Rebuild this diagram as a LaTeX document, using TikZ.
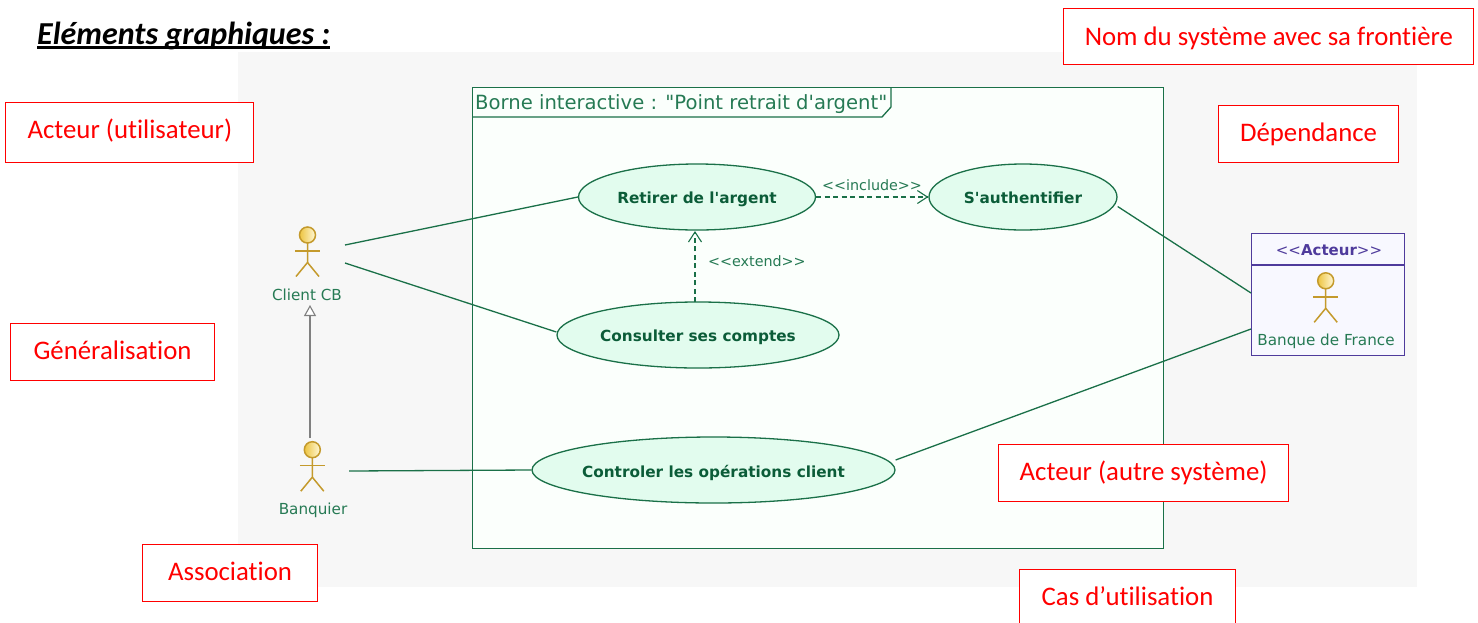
\documentclass[tikz,border=0pt]{standalone}
\usepackage{fontspec}
\setmainfont[Ligatures=NoCommon]{Carlito}
\newfontfamily\umlfont{DejaVu Sans}
\usetikzlibrary{arrows.meta,calc,shapes.geometric}
\definecolor{umlgreen}{HTML}{1A7048}
\definecolor{umltext}{HTML}{267A54}
\definecolor{umldark}{HTML}{0B5C38}
\definecolor{ucfill}{HTML}{E2FCEE}
\definecolor{framefill}{HTML}{FBFFFC}
\definecolor{gold}{HTML}{C49A2C}
\definecolor{headl}{HTML}{EDC440}
\definecolor{headr}{HTML}{FFF8D8}
\definecolor{purp}{HTML}{4F3B9C}
\definecolor{bqfill}{HTML}{F8F8FF}
\definecolor{bgray}{HTML}{F7F7F7}
\definecolor{genc}{HTML}{808080}
\newcommand{\dropped}[2]{\makebox[0pt]{\raisebox{#1}[0pt][0pt]{#2}}}
\tikzset{
  redbox/.style={draw=red,line width=1.1pt,fill=white,text=red,font=\fontsize{26.8}{30}\selectfont,inner sep=0pt,anchor=north west,align=center},
  usecase/.style={ellipse,draw=umlgreen,fill=ucfill,line width=1.3pt,inner sep=0pt,text=umldark,font=\umlfont\bfseries\fontsize{15.3}{18}\selectfont,minimum height=66pt},
  assoc/.style={draw=umlgreen,line width=1.3pt},
  dep/.style={draw=umlgreen,line width=1.3pt,dash pattern=on 5pt off 3.5pt,-{Straight Barb[length=10pt,width=13pt,line width=1.1pt]}},
  gen/.style={draw=genc,line width=1.6pt,-{Triangle[open,length=11pt,width=12pt,line width=1.1pt,fill=white]}},
  umllabel/.style={text=umltext,font=\umlfont\fontsize{15.2}{18}\selectfont,inner sep=0pt,anchor=base},
  deplabel/.style={text=umltext,font=\umlfont\fontsize{14.3}{18}\selectfont,inner sep=0pt,anchor=base west},
  actorline/.style={draw=gold,line width=1.5pt},
}
\newcommand{\stick}[1]{%
  \shade[left color=headl,right color=headr] (#1) circle (8);
  \draw[actorline] (#1) circle (8);
  \draw[actorline] ($(#1)+(0,8)$) -- ($(#1)+(0,27.5)$) -- ($(#1)+(-11.5,41.5)$);
  \draw[actorline] ($(#1)+(0,27.5)$) -- ($(#1)+(11.5,41.5)$);
  \draw[actorline] ($(#1)+(-12.5,16)$) -- ($(#1)+(12.5,16)$);
}
\begin{document}
\begin{tikzpicture}[x=1pt,y=-1pt]
\useasboundingbox (0,0) rectangle (1478,622);
\node[fill=bgray,minimum width=1179pt,minimum height=535pt,inner sep=0pt,anchor=north west] (bg) at (238,52) {};
\node[draw=umlgreen,fill=framefill,line width=1.3pt,minimum width=691pt,minimum height=461pt,inner sep=0pt,anchor=north west] (frame) at (472,87) {};
\path[draw=umlgreen,line width=1.3pt] (472,117) -- (882,117) -- (891,107) -- (891,87);
\node[text=umltext,font=\umlfont\fontsize{19.6}{24}\selectfont,inner sep=0pt,anchor=base west] (title) at (475,109.3) {Borne interactive : "Point retrait d'argent"};

\node[font=\bfseries\itshape\fontsize{32}{36}\selectfont,inner sep=0pt,anchor=base west] (head) at (37,44) {Eléments graphiques :};
\draw[line width=2.6pt] (head.base west |- 0,47.5) -- (head.base east |- 0,47.5);

\node[usecase,minimum width=237pt] (ret) at (697,197) {\dropped{-6.5pt}{Retirer de l'argent}};
\node[usecase,minimum width=188pt] (auth) at (1023,197) {\dropped{-6.7pt}{S'authentifier}};
\node[usecase,minimum width=282pt] (cons) at (698,335) {\dropped{-6.7pt}{Consulter ses comptes}};
\node[usecase,minimum width=363pt] (ctrl) at (713.5,470) {\dropped{-7pt}{Controler les opérations client}};

\stick{307.5,235}
\node[umllabel] (lclient) at (307,300) {Client CB};
\stick{312.3,449.7}
\node[umllabel] (lbanq) at (313,514) {Banquier};

\node[draw=purp,fill=bqfill,line width=1.3pt,minimum width=153pt,minimum height=122pt,inner sep=0pt,anchor=north west] (bq) at (1251,233) {};
\draw[draw=purp,line width=1.3pt] (1251,265) -- (1404,265);
\node[inner sep=0pt,text=purp,font=\umlfont\fontsize{15}{18}\selectfont,anchor=base] (stereo) at (1329,255) {<{}<\textbf{Acteur}>{}>};
\stick{1325.7,280.8}
\node[umllabel] (lbq) at (1326,345) {Banque de France};

\coordinate (c1) at (345,245);
\coordinate (c2) at (345,263);
\coordinate (b1) at (349,471);
\coordinate (g1) at (310,438);
\coordinate (g2) at (310,305);
\coordinate (bq1) at (1251,293);
\coordinate (bq2) at (1251,329);
\coordinate (e1) at (695,302);
\coordinate (e2) at (695,231);
\coordinate (ae) at ($(auth.east)+(0,9.5)$);
\coordinate (ce) at ($(ctrl.east)+(0,-10)$);
\coordinate (cw) at ($(cons.west)+(0,-3)$);
\draw[assoc] (c1) -- (ret.west);
\draw[assoc] (c2) -- (cw);
\draw[assoc] (b1) -- (ctrl.west);
\draw[gen] (g1) -- (g2);
\draw[assoc] (ae) -- (bq1);
\draw[assoc] (ce) -- (bq2);
\draw[dep] (ret.east) -- (auth.west);
\draw[dep] (e1) -- (e2);
\node[deplabel] (linc) at (822,190) {<{}<include>{}>};
\node[deplabel] (lext) at (708,266.7) {<{}<extend>{}>};

\node[redbox,minimum width=410pt,minimum height=56pt] (n1) at (1063.3,8.3) {\dropped{-8.5pt}{Nom du système avec sa frontière}};
\node[redbox,minimum width=248pt,minimum height=60pt] (n2) at (5.3,102) {\dropped{-6pt}{Acteur (utilisateur)}};
\node[redbox,minimum width=180pt,minimum height=57pt] (n3) at (1218,105) {\dropped{-7.2pt}{Dépendance}};
\node[redbox,minimum width=204pt,minimum height=57pt] (n4) at (10,323) {\dropped{-7.8pt}{Généralisation}};
\node[redbox,minimum width=290pt,minimum height=57pt] (n5) at (998,444) {\dropped{-7.8pt}{Acteur (autre système)}};
\node[redbox,minimum width=175pt,minimum height=57pt] (n6) at (142,544) {\dropped{-7.5pt}{Association}};
\node[redbox,minimum width=216pt,minimum height=57pt] (n7) at (1019,569) {\dropped{-7.5pt}{Cas d’utilisation}};
\end{tikzpicture}
\end{document}
